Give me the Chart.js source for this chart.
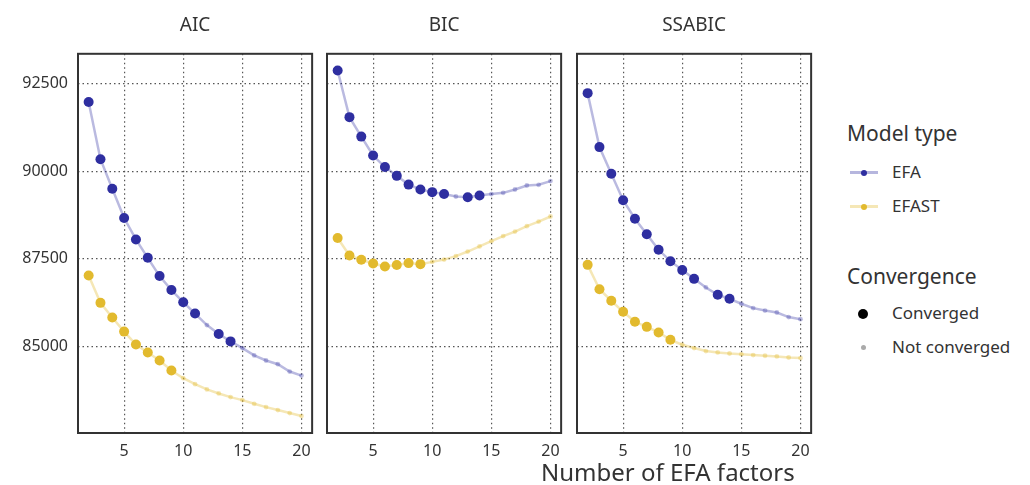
<!DOCTYPE html>
<html>
<head>
<meta charset="utf-8">
<script src="https://cdn.jsdelivr.net/npm/chart.js@4.4.1/dist/chart.umd.min.js"></script>
<style>
  body { margin: 0; background: #fff; font-family: "Noto Sans", sans-serif; color: #333; }
  #wrap { position: relative; width: 1030px; height: 485px; overflow: hidden; }
  #wrap canvas { position: absolute; top: 0; }
  .txt { position: absolute; white-space: nowrap; line-height: 1; }
  .lg-line { position: absolute; height: 3px; width: 28px; }
  .lg-dot { position: absolute; border-radius: 50%; }
</style>
</head>
<body>
<div id="wrap">
  <canvas id="pAIC" width="320" height="465" style="left:0px"></canvas>
  <canvas id="pBIC" width="247" height="465" style="left:322px"></canvas>
  <canvas id="pSSABIC" width="247" height="465" style="left:572px"></canvas>

  <div class="txt" id="xTitle" style="left:541px; top:460px; font-size:24px;">Number of EFA factors</div>

  <div class="txt" style="left:847px; top:123px; font-size:21px;">Model type</div>
  <div class="lg-line" style="left:850px; top:171px; background:rgba(46,46,160,0.35)"></div>
  <div class="lg-dot" style="left:861px; top:170px; width:6px; height:6px; background:#2e2ea0"></div>
  <div class="txt" style="left:892px; top:163px; font-size:17px;">EFA</div>
  <div class="lg-line" style="left:850px; top:205px; background:rgba(226,186,46,0.35)"></div>
  <div class="lg-dot" style="left:861px; top:204px; width:6px; height:6px; background:#e2ba2e"></div>
  <div class="txt" style="left:892px; top:197px; font-size:17px;">EFAST</div>

  <div class="txt" style="left:847px; top:266px; font-size:21px;">Convergence</div>
  <div class="lg-dot" style="left:858px; top:309px; width:10px; height:10px; background:#000"></div>
  <div class="txt" style="left:892px; top:304px; font-size:17px;">Converged</div>
  <div class="lg-dot" style="left:861px; top:345px; width:5px; height:5px; background:#aaa"></div>
  <div class="txt" style="left:892px; top:338px; font-size:17px;">Not converged</div>
</div>
<script>
const FONT = '"Noto Sans", sans-serif';
const NAVY = '#2e2ea0';
const GOLD = '#e2ba2e';

const factors = [2, 3, 4, 5, 6, 7, 8, 9, 10, 11, 12, 13, 14, 15, 16, 17, 18, 19, 20];
const xTicks = [5, 10, 15, 20];
const yTicks = [85000, 87500, 90000, 92500];

// 1 = converged, 0 = not converged
const efaConverged   = [1, 1, 1, 1, 1, 1, 1, 1, 1, 1, 0, 1, 1, 0, 0, 0, 0, 0, 0];
const efastConverged = [1, 1, 1, 1, 1, 1, 1, 1, 0, 0, 0, 0, 0, 0, 0, 0, 0, 0, 0];

const aicEfa   = [91970, 90340, 89495, 88660, 88050, 87525, 87005, 86605, 86260, 85935, 85605, 85350, 85140, 84950, 84740, 84595, 84490, 84280, 84165];
const aicEfast = [87020, 86240, 85820, 85420, 85050, 84825, 84595, 84310, 84090, 83920, 83770, 83655, 83550, 83465, 83360, 83265, 83180, 83095, 83010];
const bicEfa   = [92870, 91540, 90985, 90445, 90115, 89865, 89615, 89475, 89400, 89345, 89275, 89255, 89305, 89345, 89380, 89475, 89590, 89610, 89715];
const bicEfast = [88090, 87590, 87470, 87365, 87280, 87320, 87375, 87345, 87410, 87475, 87575, 87705, 87850, 88000, 88145, 88275, 88430, 88560, 88705];
const ssabicEfa   = [92225, 90685, 89925, 89170, 88640, 88200, 87755, 87430, 87175, 86925, 86680, 86470, 86355, 86215, 86090, 86020, 85965, 85835, 85775];
const ssabicEfast = [87325, 86630, 86300, 85985, 85700, 85555, 85395, 85185, 85045, 84950, 84865, 84825, 84795, 84775, 84750, 84730, 84710, 84680, 84665];

const frame = {
  id: 'frame',
  afterDatasetsDraw(chart) {
    const a = chart.chartArea, ctx = chart.ctx;
    ctx.save();
    ctx.strokeStyle = '#333';
    ctx.lineWidth = 2;
    ctx.strokeRect(a.left, a.top, a.right - a.left, a.bottom - a.top);
    ctx.restore();
  }
};

function series(vals, conv, color, faded, line) {
  return {
    data: factors.map((f, i) => ({ x: f, y: vals[i] })),
    borderColor: line,
    borderWidth: 2.5,
    tension: 0,
    pointRadius: conv.map(c => c ? 5 : 2.4),
    pointBackgroundColor: conv.map(c => c ? color : faded),
    pointBorderWidth: 0
  };
}

function makePanel(id, title, efa, efast, showY) {
  new Chart(document.getElementById(id), {
    type: 'line',
    data: {
      datasets: [
        series(efa, efaConverged, NAVY, 'rgba(46,46,160,0.3)', 'rgba(46,46,160,0.33)'),
        series(efast, efastConverged, GOLD, 'rgba(226,186,46,0.35)', 'rgba(226,186,46,0.35)')
      ]
    },
    options: {
      responsive: false,
      animation: false,
      layout: { padding: { left: showY ? 0 : 4, right: 4, top: 0, bottom: 0 } },
      plugins: {
        legend: { display: false },
        tooltip: { enabled: false },
        title: {
          display: true, text: title, color: '#333', fullSize: false,
          font: { family: FONT, size: 19, weight: 'normal' },
          padding: { top: 14, bottom: 17 }
        }
      },
      scales: {
        x: {
          type: 'linear', min: 1.1, max: 20.9,
          afterBuildTicks: s => { s.ticks = xTicks.map(v => ({ value: v })); },
          afterFit: s => { s.height = 32; },
          grid: { color: '#555', lineWidth: 1.2, drawTicks: false },
          border: { display: false, dash: [1.5, 3] },
          ticks: { color: '#333', padding: 9, maxRotation: 0, font: { family: FONT, size: 16 } }
        },
        y: {
          min: 82526, max: 93348,
          afterBuildTicks: s => { s.ticks = yTicks.map(v => ({ value: v })); },
          afterFit: s => { s.width = showY ? 78 : 0; },
          grid: { color: '#555', lineWidth: 1.2, drawTicks: false },
          border: { display: false, dash: [1.5, 3] },
          ticks: { display: showY, color: '#333', padding: 10, callback: v => String(v), font: { family: FONT, size: 16 } }
        }
      }
    },
    plugins: [frame]
  });
}

makePanel('pAIC', 'AIC', aicEfa, aicEfast, true);
makePanel('pBIC', 'BIC', bicEfa, bicEfast, false);
makePanel('pSSABIC', 'SSABIC', ssabicEfa, ssabicEfast, false);
</script>
</body>
</html>
